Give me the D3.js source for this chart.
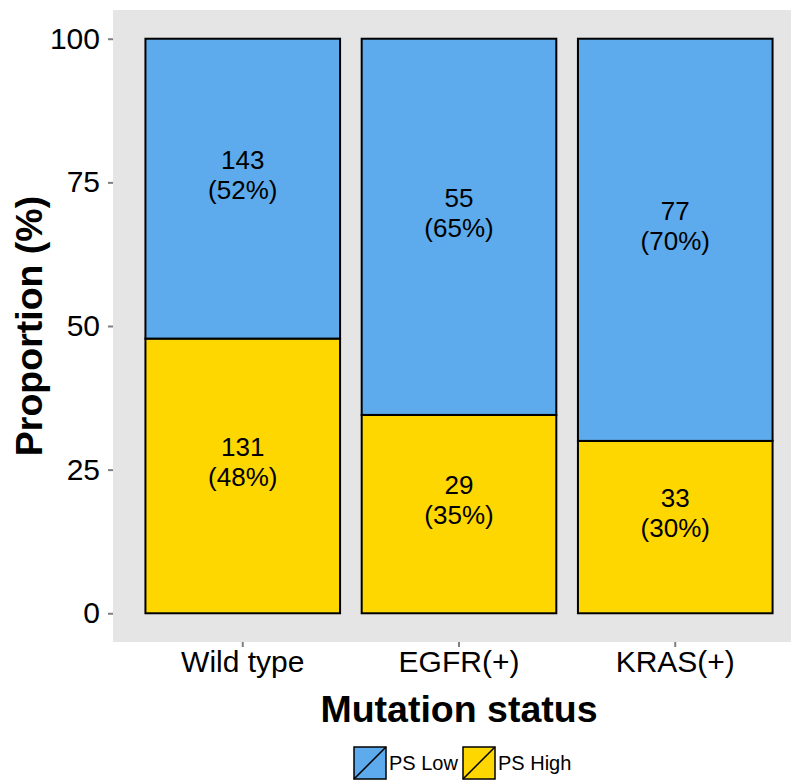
<!DOCTYPE html>
<html>
<head>
<meta charset="utf-8">
<script src="https://cdn.jsdelivr.net/npm/d3@7"></script>
<style>
  body { margin: 0; background: #fff; }
  svg text { font-family: "Liberation Sans", Arial, sans-serif; }
</style>
</head>
<body>
<div id="chart"></div>
<script>
// data
var groups = ["Wild type", "EGFR(+)", "KRAS(+)"];
var lowCounts = [143, 55, 77];
var highCounts = [131, 29, 33];
var seriesNames = ["PS Low", "PS High"];
var seriesColors = ["#5DABEC", "#FFD700"];
var yTicks = [0, 25, 50, 75, 100];

var w = 791, h = 781;
// panel runs past the right edge, like the original
var margin = {top: 10, right: -14, bottom: 139, left: 113};
var width = w - margin.left - margin.right,
    height = h - margin.top - margin.bottom;

var svg = d3.select("#chart")
  .append("svg")
  .attr("width", w)
  .attr("height", h);

// panel
svg.append("rect")
  .attr("x", margin.left)
  .attr("y", margin.top)
  .attr("width", width)
  .attr("height", height)
  .attr("fill", "#E5E5E5");

var g = svg.append("g")
  .attr("transform", "translate(" + margin.left + "," + margin.top + ")");

// discrete axis with ggplot-like 0.6 expansion
var x = d3.scaleBand()
  .domain(groups)
  .range([0, width])
  .paddingInner(0.1)
  .paddingOuter(0.15);

var y = d3.scaleLinear()
  .domain([-5, 105])
  .range([height, 0]);

// stacked rows: high at bottom, low on top
var rows = groups.map(function(d, i) {
  var tot = lowCounts[i] + highCounts[i];
  return {group: d, high: highCounts[i] / tot * 100, low: lowCounts[i] / tot * 100,
          highN: highCounts[i], lowN: lowCounts[i]};
});
var stack = d3.stack().keys(["high", "low"]);
var layers = stack(rows);
var colorOf = {high: seriesColors[1], low: seriesColors[0]};
var countOf = {high: "highN", low: "lowN"};

layers.forEach(function(layer) {
  g.selectAll(".bar-" + layer.key)
    .data(layer)
    .enter()
    .append("rect")
      .attr("x", function(d) { return x(d.data.group); })
      .attr("y", function(d) { return y(d[1]); })
      .attr("width", x.bandwidth())
      .attr("height", function(d) { return y(d[0]) - y(d[1]); })
      .attr("fill", colorOf[layer.key])
      .attr("stroke", "#000")
      .attr("stroke-width", 2);

  var lab = g.selectAll(".lab-" + layer.key)
    .data(layer)
    .enter()
    .append("text")
      .attr("text-anchor", "middle")
      .attr("font-size", 26)
      .attr("fill", "#000");
  lab.append("tspan")
    .attr("x", function(d) { return x(d.data.group) + x.bandwidth() / 2; })
    .attr("y", function(d) { return y((d[0] + d[1]) / 2) - 20; })
    .text(function(d) { return d.data[countOf[layer.key]]; });
  lab.append("tspan")
    .attr("x", function(d) { return x(d.data.group) + x.bandwidth() / 2; })
    .attr("y", function(d) { return y((d[0] + d[1]) / 2) + 10; })
    .text(function(d) { return "(" + Math.round(d[1] - d[0]) + "%)"; });
});

// y axis
var yAxis = g.append("g")
  .call(d3.axisLeft(y).tickValues(yTicks).tickSize(5).tickPadding(8));
yAxis.select(".domain").remove();
yAxis.selectAll(".tick line").attr("stroke", "#7F7F7F").attr("stroke-width", 2);
yAxis.selectAll("text").attr("font-size", 30).attr("fill", "#000")
  .attr("font-family", "Liberation Sans, Arial, sans-serif");

// x axis
var xAxis = g.append("g")
  .attr("transform", "translate(0," + height + ")")
  .call(d3.axisBottom(x).tickSize(5).tickPadding(4));
xAxis.select(".domain").remove();
xAxis.selectAll(".tick line").attr("stroke", "#7F7F7F").attr("stroke-width", 2);
xAxis.selectAll("text").attr("font-size", 30).attr("fill", "#000")
  .attr("font-family", "Liberation Sans, Arial, sans-serif");

// axis titles
svg.append("text")
  .attr("x", 459)
  .attr("y", 722)
  .attr("text-anchor", "middle")
  .attr("font-size", 37.5)
  .attr("font-weight", "bold")
  .text("Mutation status");

svg.append("text")
  .attr("transform", "translate(42," + (margin.top + height / 2) + ")rotate(-90)")
  .attr("text-anchor", "middle")
  .attr("font-size", 37.5)
  .attr("font-weight", "bold")
  .text("Proportion (%)");

// legend
var legend = svg.append("g").attr("transform", "translate(354,747)");
var legX = [0, 109];
seriesNames.forEach(function(name, i) {
  var k = legend.append("g").attr("transform", "translate(" + legX[i] + ",0)");
  k.append("rect")
    .attr("width", 32).attr("height", 32)
    .attr("fill", seriesColors[i])
    .attr("stroke", "#000").attr("stroke-width", 1.5);
  k.append("line")
    .attr("x1", 0).attr("y1", 32).attr("x2", 32).attr("y2", 0)
    .attr("stroke", "#000").attr("stroke-width", 1.5);
  k.append("text")
    .attr("x", 35).attr("y", 23)
    .attr("font-size", 20)
    .text(name);
});
</script>
</body>
</html>
